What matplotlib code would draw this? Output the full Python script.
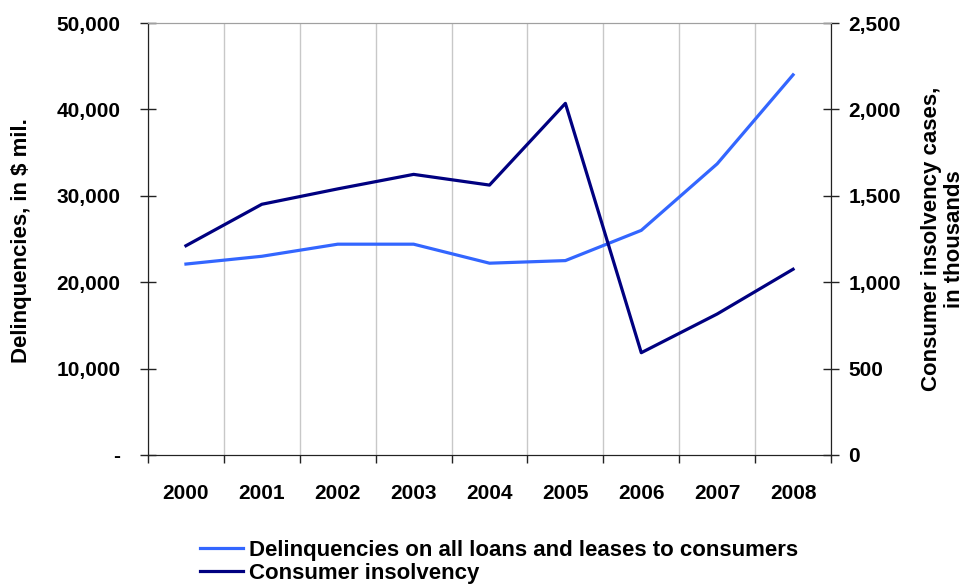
import matplotlib
matplotlib.use("Agg")
import matplotlib.pyplot as plt
from matplotlib.ticker import FuncFormatter, FixedLocator

plt.rcParams['font.family'] = ['Liberation Sans', 'DejaVu Sans']
plt.rcParams['font.weight'] = 'bold'

years = ["2000", "2001", "2002", "2003", "2004", "2005", "2006", "2007", "2008"]
delinquencies = [22100, 23000, 24400, 24400, 22200, 22500, 26000, 33700, 44000]
insolvency = [1211, 1451, 1540, 1624, 1562, 2035, 592, 816, 1075]

left_ticks = [0, 10000, 20000, 30000, 40000, 50000]
right_ticks = [0, 500, 1000, 1500, 2000, 2500]

light = '#3366FF'
dark = '#000080'
fs = 15
fs_lab = 16

fig = plt.figure(figsize=(9.68, 5.85), dpi=100)
ax = fig.add_axes([148/968, 1-455/585, (831-148)/968, (455-23)/585])
ax2 = ax.twinx()

x = list(range(len(years)))
l1, = ax.plot(x, delinquencies, color=light, lw=2.3, label='Delinquencies on all loans and leases to consumers', zorder=3)
l2, = ax2.plot(x, insolvency, color=dark, lw=2.3, label='Consumer insolvency', zorder=3)

ax.set_xlim(-0.5, len(years) - 0.5)
ax.set_ylim(0, 50000)
ax2.set_ylim(0, 2500)

# x ticks at category boundaries, labels at centers
ax.xaxis.set_major_locator(FixedLocator([i - 0.5 for i in range(len(years) + 1)]))
ax.xaxis.set_minor_locator(FixedLocator(x))
ax.set_xticklabels([''] * (len(years) + 1))
ax.set_xticklabels(years, minor=True)
ax.tick_params(axis='x', which='major', direction='out', length=6, width=1, color='#222222')
ax.tick_params(axis='x', which='minor', length=0, pad=21, labelsize=fs)
ax.grid(axis='x', which='major', color='#C8C8C8', lw=1)
ax.set_axisbelow(True)

ax.set_yticks(left_ticks)
ax.yaxis.set_major_formatter(FuncFormatter(lambda v, p: '-' if v == 0 else f'{int(v):,}'))
ax.tick_params(axis='y', direction='inout', length=11.5, width=1, color='#222222', pad=14, labelsize=fs)

ax2.set_yticks(right_ticks)
ax2.yaxis.set_major_formatter(FuncFormatter(lambda v, p: f'{int(v):,}'))
ax2.tick_params(axis='y', direction='inout', length=11, width=1, color='#222222', pad=7, labelsize=fs)

for a in (ax, ax2):
    a.spines['top'].set_color('#A0A0A0')
    a.spines['left'].set_color('#222222')
    a.spines['right'].set_color('#222222')
    a.spines['bottom'].set_color('#222222')

fig.text(22/968, 1-241/585, 'Delinquencies, in $ mil.', rotation=90, ha='center', va='center',
         fontsize=fs_lab, fontweight='bold')
fig.text(943/968, 1-239/585, 'Consumer insolvency cases,\nin thousands', rotation=90, ha='center', va='center',
         fontsize=fs_lab, fontweight='bold', linespacing=1.1, multialignment='center')

fig.legend(handles=[l1, l2], loc='center left', bbox_to_anchor=(200/968, 1-562/585), frameon=False,
           fontsize=fs_lab, handlelength=1.95, handletextpad=0.25, labelspacing=0.1, borderpad=0, borderaxespad=0)

fig.savefig('out.png', dpi=100)
